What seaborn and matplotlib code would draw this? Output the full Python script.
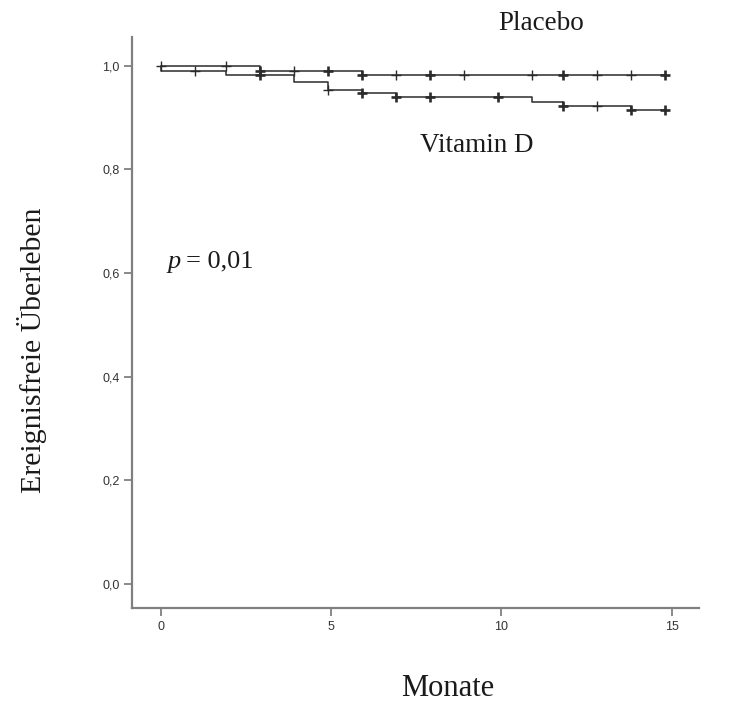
import numpy as np
import pandas as pd
import matplotlib
matplotlib.use('Agg')
import matplotlib.pyplot as plt
import seaborn as sns

# Kaplan-Meier Stufen (Zeit in Monaten, Überleben nach dem Schritt)
placebo_t = [0.0, 2.9, 5.9, 14.8]
placebo_s = [1.0, 0.990, 0.983, 0.983]
vitd_t = [0.0, 0.0, 1.9, 3.9, 4.9, 5.9, 6.9, 10.9, 11.8, 13.8, 14.8]
vitd_s = [1.0, 0.990, 0.983, 0.968, 0.953, 0.947, 0.940, 0.931, 0.923, 0.914, 0.914]

# zensierte Fälle (Zeit, Anzahl)
placebo_cens_t = [0.0, 1.9, 2.9, 3.9, 4.9, 5.9, 6.9, 7.9, 8.9, 10.9, 11.8, 12.8, 13.8, 14.8]
placebo_cens_n = [1, 1, 2, 1, 2, 2, 1, 2, 1, 1, 2, 1, 1, 2]
vitd_cens_t = [1.0, 2.9, 4.9, 5.9, 6.9, 7.9, 9.9, 11.8, 12.8, 13.8, 14.8]
vitd_cens_n = [1, 2, 1, 2, 2, 2, 2, 2, 1, 2, 2]

y_ticks = [0.0, 0.2, 0.4, 0.6, 0.8, 1.0]
y_labels = ['0,0', '0,2', '0,4', '0,6', '0,8', '1,0']
x_ticks = [0, 5, 10, 15]

sns.set_style('ticks')
plt.rcParams['font.family'] = ['Liberation Serif', 'DejaVu Serif']

fig = plt.figure(figsize=(7.38, 7.04), dpi=100)
ax = fig.add_axes([0.179, 0.136, 0.768, 0.811])

line_col = '#2b2b2b'
curves = pd.concat([
    pd.DataFrame({'t': placebo_t, 's': placebo_s, 'gruppe': 'Placebo'}),
    pd.DataFrame({'t': vitd_t, 's': vitd_s, 'gruppe': 'Vitamin D'}),
])
for name, d in curves.groupby('gruppe'):
    sns.lineplot(data=d, x='t', y='s', ax=ax, color=line_col, linewidth=1.1,
                 drawstyle='steps-post', estimator=None, sort=False, legend=False)


def cens_y(times, surv, ct):
    idx = np.searchsorted(times, ct, side='right') - 1
    return np.array(surv)[idx]


cens = pd.concat([
    pd.DataFrame({'t': placebo_cens_t, 'n': placebo_cens_n,
                  's': cens_y(placebo_t, placebo_s, placebo_cens_t)}),
    pd.DataFrame({'t': vitd_cens_t, 'n': vitd_cens_n,
                  's': cens_y(vitd_t, vitd_s, vitd_cens_t)}),
])
for n, d in cens.groupby('n'):
    sns.scatterplot(data=d, x='t', y='s', ax=ax, marker='+', s=60,
                    color=line_col, linewidth=1.0 + 0.9 * (n - 1), legend=False)

ax.set_xlim(-0.85, 15.8)
ax.set_ylim(-0.047, 1.055)
ax.set_xticks(x_ticks)
ax.set_xticklabels([str(v) for v in x_ticks])
ax.set_yticks(y_ticks)
ax.set_yticklabels(y_labels)
sns.despine(ax=ax)
for sp in ['left', 'bottom']:
    ax.spines[sp].set_color('#808080')
    ax.spines[sp].set_linewidth(1.6)
ax.tick_params(axis='both', colors='#808080', length=6, width=1.3, pad=3)
for lab in ax.get_xticklabels() + ax.get_yticklabels():
    lab.set_color('#333333')
    lab.set_fontsize(9)
    lab.set_family(['Liberation Sans', 'DejaVu Sans'])

ax.set_xlabel('Monate', fontsize=22, color='#1a1a1a')
ax.xaxis.set_label_coords(0.557, -0.14)
ax.xaxis.label.set_va('center')
ax.set_ylabel('Ereignisfreie Überleben', fontsize=21.5, color='#1a1a1a')
ax.yaxis.set_label_coords(-0.176, 0.452)
ax.yaxis.label.set_va('center')

fig.text(0.733, 0.966, 'Placebo', fontsize=19.5, ha='center', va='center', color='#1a1a1a')
fig.text(0.646, 0.794, 'Vitamin D', fontsize=19.5, ha='center', va='center', color='#1a1a1a')
fig.text(0.2276, 0.628, 'p', fontsize=19, fontstyle='italic', ha='left', va='center', color='#1a1a1a')
fig.text(0.252, 0.628, '= 0,01', fontsize=19, ha='left', va='center', color='#1a1a1a')

fig.savefig('out.png', dpi=100)
